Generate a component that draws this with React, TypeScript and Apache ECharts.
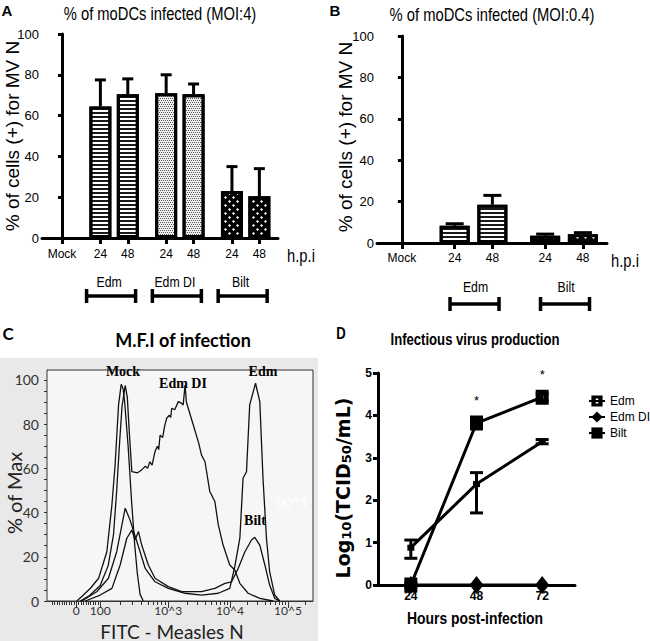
import React, { useEffect, useRef } from "react";
import * as echarts from "echarts";

// ---------- DATA ----------
// Panel A: % of moDCs infected (MOI:4)
const categoriesA = ["Mock", "24", "48", "24", "48", "24", "48"];
const groupsA = ["", "Edm", "Edm", "Edm DI", "Edm DI", "Bilt", "Bilt"];
const valuesA = [0, 64.5, 70.5, 71, 70.5, 23, 20.5];
const errorsA = [0, 13, 7.5, 9, 5, 12, 13.5];

// Panel B: % of moDCs infected (MOI:0.4)
const categoriesB = ["Mock", "24", "48", "24", "48"];
const groupsB = ["", "Edm", "Edm", "Bilt", "Bilt"];
const valuesB = [0, 8.3, 18.5, 3.5, 4.2];
const errorsB = [0, 1, 4.5, 0.8, 0.8];

// Panel C: histograms, [display channel, % of max]
const cTickValues = [0, 100, 1000, 10000, 100000];
const cTickLabels = ["0", "100", "10^3", "10^4", "10^5"];
const cPercentTicks = [0, 20, 40, 60, 80, 100];
const cNames = ["Mock", "Edm DI", "Edm", "Bilt"];
const mockC = [[112, 0], [137, 2.7], [165, 6], [194, 10.3], [225, 22.3], [244, 43.4], [256, 61.5], [269, 88.7], [279, 98], [286, 96], [292, 90], [305, 70], [318, 45], [330, 25], [340, 12], [350, 3], [362, 0]];
const edmDiC = [[125, 0], [160, 2.5], [200, 7], [230, 16], [250, 30], [262, 50], [272, 70], [282, 88], [294, 97.5], [302, 92], [310, 75], [319, 58.5], [340, 58], [356, 59.3], [370, 61], [378, 60], [387, 63], [395, 61.5], [406, 67.6], [415, 70], [420, 68.5], [425, 75], [435, 74], [442, 79], [450, 82.7], [460, 84], [465, 83], [469, 87.2], [480, 86.5], [494, 90.2], [505, 89.5], [512, 88.7], [519, 97.7], [524, 90], [531, 87.2], [550, 79.6], [569, 72], [581, 66], [594, 63], [612, 49.5], [631, 45], [644, 34.4], [662, 25.3], [687, 16.3], [706, 14], [725, 8], [756, 3.5], [800, 1.2], [850, 0]];
const edmC = [[131, 0], [187, 4.2], [231, 10.3], [262, 22.3], [294, 42], [312, 36.7], [350, 22.3], [369, 14.8], [406, 8.7], [456, 5.7], [519, 3.5], [581, 2.7], [644, 3.5], [687, 5.7], [706, 15.5], [725, 28.4], [737, 55.5], [750, 58.5], [762, 88.7], [784, 98.5], [800, 90.2], [812, 55.5], [825, 28.4], [837, 13.3], [856, 2.7], [875, 0]];
const biltC = [[144, 0], [200, 2.7], [244, 5.7], [275, 16.3], [300, 28.4], [319, 32.1], [331, 27.6], [344, 31.4], [356, 25.3], [381, 16.3], [406, 10.3], [456, 6.5], [506, 4.2], [581, 4.2], [631, 5.7], [669, 8], [694, 8.7], [719, 14.8], [744, 22.3], [769, 27.6], [781, 28.8], [800, 25.3], [819, 16.3], [837, 7.2], [856, 1.2], [875, 0]];

// Panel D: Infectious virus production
const hoursD = ["24", "48", "72"];
const edmD = [0, 3.82, 4.43];
const edmErrD = [0.05, 0.08, 0.08];
const edmDiD = [0, 0, 0];
const biltD = [0.88, 2.38, 3.38];
const biltLowD = [0.63, 1.7, 3.33];
const biltHighD = [1.06, 2.65, 3.43];
const starsD = ["", "*", "*"];

// ---------- LAYOUT / STYLE ----------
const SANS = '"Liberation Sans", Arial, sans-serif';
const CAL = 'Lato, "Open Sans", sans-serif';
const SERIF = '"Liberation Serif", "Times New Roman", serif';
const NARROW_SCALE = 0.82;

const gA = { left: 42, top: 34, width: 236, height: 204, xMin: -0.73, xMax: 7.88 };
const gB = { left: 377, top: 36, width: 230, height: 207, xMin: -0.66, xMax: 5.44 };
const gC = { left: 47, top: 370, width: 266, height: 231 };
const gD = { left: 378, top: 373, width: 197, height: 212 };

const EDM_SYMBOL = "path://M0,0H13V15H0Z M5,4V11H8V4Z";

function layoutPositions(groups: string[]) {
  const pos: number[] = [];
  let p = 0;
  groups.forEach((g, i) => {
    if (i > 0) p += g === groups[i - 1] ? 1 : 1.4;
    pos.push(Math.round(p * 100) / 100);
  });
  return pos;
}

const labelAt = (positions: number[], labels: string[]) => (v: number) => {
  let best = -1;
  let bd = 1e9;
  positions.forEach((p, i) => {
    const d = Math.abs(p - v);
    if (d < bd) {
      bd = d;
      best = i;
    }
  });
  return bd < 1e-3 ? labels[best] : "";
};

// biexponential-like display transform for panel C
function channelOf(v: number) {
  if (Math.abs(v) <= 100) return 110 + 0.9 * v;
  const l = Math.log10(v);
  const anchors = [[2, 200], [3, 456], [4, 688], [5, 906]];
  for (let i = 0; i < anchors.length - 1; i++) {
    if (l <= anchors[i + 1][0]) {
      const [l0, c0] = anchors[i];
      const [l1, c1] = anchors[i + 1];
      return c0 + ((l - l0) / (l1 - l0)) * (c1 - c0);
    }
  }
  return 906 + (l - 5) * 218;
}

const decalFor = (g: string) => {
  if (g === "Edm")
    return { color: "#fff", borderColor: "#000", borderWidth: 3, decal: { symbol: "rect", symbolSize: 1, color: "#1a1a1a", dashArrayX: [1, 0], dashArrayY: [2, 2] } };
  if (g === "Edm DI")
    return { color: "#eeeeee", borderColor: "#000", borderWidth: 3, decal: { symbol: "rect", symbolSize: 1, color: "#5a5a5a", dashArrayX: [[1, 1], [0, 1, 1, 0]], dashArrayY: [1, 1] } };
  return { color: "#000", borderColor: "#000", borderWidth: 3, decal: { symbol: "diamond", symbolSize: 1, color: "#fff", dashArrayX: [[3, 5], [0, 4, 3, 1]], dashArrayY: [3, 1] } };
};

const errorRender = (half: number, lw: number) => (params: any, api: any) => {
  const x = api.value(0);
  const lo = api.coord([x, api.value(1)]);
  const hi = api.coord([x, api.value(2)]);
  const st = { stroke: "#000", lineWidth: lw };
  const children: any[] = [
    { type: "line", shape: { x1: lo[0], y1: lo[1], x2: hi[0], y2: hi[1] }, style: st },
    { type: "line", shape: { x1: hi[0] - half, y1: hi[1], x2: hi[0] + half, y2: hi[1] }, style: st },
  ];
  if (api.value(3) === 1) {
    children.push({ type: "line", shape: { x1: lo[0] - half, y1: lo[1], x2: lo[0] + half, y2: lo[1] }, style: st });
  }
  return { type: "group", children };
};

function txt(text: string, x: number, y: number, font: string, extra: any = {}) {
  const { rotation, scaleX, ...style } = extra;
  return {
    type: "text",
    x,
    y,
    rotation: rotation || 0,
    scaleX: scaleX || 1,
    silent: true,
    z: 10,
    style: { text, font, fill: "#000", align: "center", verticalAlign: "middle", ...style },
  };
}
const ntxt = (text: string, x: number, y: number, font: string, extra: any = {}) =>
  txt(text, x, y, font, { scaleX: NARROW_SCALE, ...extra });

function bracket(cx: number, y: number, half: number, capH: number) {
  const st = { stroke: "#000", lineWidth: 3.5 };
  return [
    { type: "line", silent: true, z: 10, shape: { x1: cx - half, y1: y, x2: cx + half, y2: y }, style: st },
    { type: "line", silent: true, z: 10, shape: { x1: cx - half, y1: y - capH, x2: cx - half, y2: y + capH }, style: st },
    { type: "line", silent: true, z: 10, shape: { x1: cx + half, y1: y - capH, x2: cx + half, y2: y + capH }, style: st },
  ];
}

function groupMarks(groups: string[], pos: number[], g: any, labelY: number, brY: number, labelOff: number, brOff: number) {
  const px = (v: number) => g.left + ((v - g.xMin) / (g.xMax - g.xMin)) * g.width;
  const out: any[] = [];
  const seen: string[] = [];
  groups.forEach((name) => {
    if (!name || seen.includes(name)) return;
    seen.push(name);
    const ps = pos.filter((_, i) => groups[i] === name);
    const c = px((Math.min(...ps) + Math.max(...ps)) / 2);
    out.push(ntxt(name, c + labelOff, labelY, `15px ${SANS}`));
    out.push(...bracket(c + brOff, brY, 24.5, 7));
  });
  return out;
}

export default function App() {
  const ref = useRef<HTMLDivElement>(null);

  useEffect(() => {
    if (!ref.current) return;
    const chart = echarts.init(ref.current, undefined, { renderer: "svg" });

    const posA = layoutPositions(groupsA);
    const posB = layoutPositions(groupsB);
    const majorC = cTickValues.map(channelOf);
    const minorVals: number[] = [];
    for (let v = -100; v <= 90; v += 10) if (v !== 0) minorVals.push(v);
    [100, 1000, 10000, 100000].forEach((d) => {
      for (let k = 2; k <= 9; k++) minorVals.push(k * d);
    });
    const minorC = minorVals.map(channelOf).filter((c) => c >= 0 && c <= 1000);
    const c5: number[] = [];
    for (let v = 0; v <= 100; v += 5) c5.push(v);

    const axisBlack = { lineStyle: { color: "#000", width: 3 } };
    const tickBlack = (length: number) => ({ show: true, length, lineStyle: { color: "#000", width: 3 } });

    const barXAxis = (g: any, gi: number, pos: number[], cats: string[], margin: number) => ({
      gridIndex: gi,
      type: "value",
      min: g.xMin,
      max: g.xMax,
      axisLine: { show: true, ...axisBlack },
      axisTick: { ...tickBlack(6), customValues: pos },
      axisLabel: { customValues: pos, formatter: labelAt(pos, cats), fontSize: 12, fontFamily: SANS, color: "#000", margin },
      splitLine: { show: false },
    });
    const barYAxis = (gi: number) => ({
      gridIndex: gi,
      type: "value",
      min: 0,
      max: 100,
      interval: 20,
      axisLine: { show: true, ...axisBlack },
      axisTick: tickBlack(4),
      axisLabel: { fontSize: 13, fontFamily: SANS, color: "#000", margin: 3 },
      splitLine: { show: false },
    });

    const grids = [gA, gB, gC, gD].map((g: any, i) => ({
      left: g.left,
      top: g.top,
      width: g.width,
      height: g.height,
      containLabel: false,
      outerBoundsMode: "none",
      show: i === 2,
      borderColor: "#333",
      borderWidth: 1,
      backgroundColor: i === 2 ? "#f6f6f6" : "transparent",
      z: 1,
    }));

    const xAxis: any[] = [
      barXAxis(gA, 0, posA, categoriesA, 10),
      barXAxis(gB, 1, posB, categoriesB, 9),
      {
        gridIndex: 2,
        type: "value",
        min: 0,
        max: 1000,
        position: "bottom",
        axisLine: { show: true, lineStyle: { color: "#333", width: 1 } },
        axisTick: { show: true, customValues: majorC, length: 7, lineStyle: { color: "#333", width: 1 } },
        axisLabel: { customValues: majorC, formatter: labelAt(majorC, cTickLabels), fontSize: 12, fontFamily: CAL, color: "#333", margin: 3 },
        splitLine: { show: false },
      },
      {
        gridIndex: 2,
        type: "value",
        min: 0,
        max: 1000,
        position: "bottom",
        axisLine: { show: false },
        axisTick: { show: true, customValues: minorC, length: 4, lineStyle: { color: "#333", width: 1 } },
        axisLabel: { show: false },
        splitLine: { show: false },
      },
      {
        gridIndex: 3,
        type: "category",
        data: hoursD,
        boundaryGap: true,
        axisLine: { show: true, ...axisBlack },
        axisTick: { show: true, alignWithLabel: true, length: 5, lineStyle: { color: "#000", width: 3 } },
        axisLabel: { fontSize: 12, fontWeight: "bold", fontFamily: SANS, color: "#000", margin: 5 },
        splitLine: { show: false },
      },
    ];

    const yAxis: any[] = [
      barYAxis(0),
      barYAxis(1),
      {
        gridIndex: 2,
        type: "value",
        min: 0,
        max: 104.5,
        axisLine: { show: true, lineStyle: { color: "#333", width: 1 } },
        axisTick: { show: true, customValues: c5, length: 3, lineStyle: { color: "#333", width: 1 } },
        axisLabel: { customValues: cPercentTicks, fontSize: 14, fontFamily: CAL, color: "#333", margin: 8 },
        splitLine: { show: false },
      },
      {
        gridIndex: 3,
        type: "value",
        min: 0,
        max: 5,
        interval: 1,
        axisLine: { show: true, ...axisBlack },
        axisTick: tickBlack(5),
        axisLabel: { fontSize: 12, fontWeight: "bold", fontFamily: SANS, color: "#000", margin: 6 },
        splitLine: { show: false },
      },
    ];

    const barSeries = (gi: number, pos: number[], vals: number[], groups: string[], bw: number) => ({
      type: "bar",
      xAxisIndex: gi,
      yAxisIndex: gi,
      barWidth: bw,
      z: 3,
      data: vals
        .map((v, i) => ({ value: [pos[i], v], itemStyle: decalFor(groups[i]) }))
        .filter((d) => d.value[1] > 0),
    });
    const errSeries = (gi: number, pos: number[], vals: number[], errs: number[], half: number) => ({
      type: "custom",
      xAxisIndex: gi,
      yAxisIndex: gi,
      z: 2,
      renderItem: errorRender(half, 3),
      data: vals.map((v, i) => [pos[i], v, v + errs[i], 0]).filter((d, i) => errs[i] > 0),
    });

    const cLine = (name: string, data: number[][]) => ({
      name: name + " histogram",
      type: "line",
      xAxisIndex: 2,
      yAxisIndex: 2,
      data,
      symbol: "none",
      smooth: false,
      lineStyle: { color: "#111", width: 1.3 },
      z: 3,
    });

    const series: any[] = [
      barSeries(0, posA, valuesA, groupsA, 22),
      errSeries(0, posA, valuesA, errorsA, 5.5),
      barSeries(1, posB, valuesB, groupsB, 30),
      errSeries(1, posB, valuesB, errorsB, 9),
      cLine(cNames[0], mockC),
      cLine(cNames[1], edmDiC),
      cLine(cNames[2], edmC),
      cLine(cNames[3], biltC),
      {
        name: "Edm",
        type: "line",
        xAxisIndex: 4,
        yAxisIndex: 3,
        data: edmD,
        symbol: EDM_SYMBOL,
        symbolSize: [13, 15],
        itemStyle: { color: "#000" },
        lineStyle: { color: "#000", width: 3 },
        label: {
          show: true,
          position: "top",
          distance: 9,
          formatter: (p: any) => starsD[p.dataIndex],
          fontSize: 13,
          color: "#000",
          fontFamily: SANS,
        },
        z: 5,
      },
      {
        name: "Edm DI",
        type: "line",
        xAxisIndex: 4,
        yAxisIndex: 3,
        data: edmDiD,
        symbol: "diamond",
        symbolSize: [14, 18],
        itemStyle: { color: "#000" },
        lineStyle: { color: "#000", width: 3 },
        z: 5,
      },
      {
        name: "Bilt",
        type: "line",
        xAxisIndex: 4,
        yAxisIndex: 3,
        data: biltD,
        symbol: "rect",
        symbolSize: [7, 6],
        itemStyle: { color: "#000" },
        lineStyle: { color: "#000", width: 3 },
        z: 5,
      },
      {
        type: "custom",
        xAxisIndex: 4,
        yAxisIndex: 3,
        z: 4,
        renderItem: errorRender(6.5, 3),
        data: [
          ...edmD.map((v, i) => [i, v - edmErrD[i], v + edmErrD[i], 1]),
          ...biltD.map((v, i) => [i, biltLowD[i], biltHighD[i], 1]),
        ],
      },
    ];

    const graphic: any[] = [
      // panel C grey background
      { type: "rect", silent: true, z: -10, shape: { x: 0, y: 358, width: 318, height: 283 }, style: { fill: "#e9e9e9" } },
      // panel letters
      txt("A", 7, 10, `bold 15px ${SANS}`),
      txt("B", 335, 10, `bold 15px ${SANS}`),
      txt("C", 8, 333, `bold 17px ${CAL}`),
      ntxt("D", 341, 334, `bold 16px ${SANS}`),
      // titles
      ntxt("% of moDCs infected (MOI:4)", 160, 13, `18px ${SANS}`),
      ntxt("% of moDCs infected (MOI:0.4)", 492, 14, `18px ${SANS}`),
      txt("M.F.I of infection", 183, 340, `bold 18px ${CAL}`),
      ntxt("Infectious virus production", 475, 340, `bold 16px ${SANS}`),
      // axis names
      txt("% of cells (+) for MV N", 12, 136, `19px ${SANS}`, { rotation: Math.PI / 2 }),
      txt("% of cells (+) for MV N", 345, 137, `19px ${SANS}`, { rotation: Math.PI / 2 }),
      ntxt("h.p.i", 301, 255, `18px ${SANS}`),
      ntxt("h.p.i", 625, 260, `18px ${SANS}`),
      txt("% of Max", 14, 493, `20px ${CAL}`, { rotation: Math.PI / 2, fill: "#222" }),
      txt("FITC - Measles N", 172, 631, `19px ${CAL}`, { fill: "#222" }),
      ntxt("Hours post-infection", 475, 618, `bold 17px ${SANS}`),
      {
        type: "text",
        x: 343,
        y: 488,
        rotation: Math.PI / 2,
        silent: true,
        z: 10,
        style: {
          text: "{a|Log}{s|10}{a|(TCID}{s|50}{a|/mL)}",
          align: "center",
          verticalAlign: "middle",
          fill: "#000",
          rich: {
            a: { fontFamily: '"DejaVu Sans", sans-serif', fontWeight: "bold", fontSize: 19, verticalAlign: "bottom", fill: "#000" },
            s: { fontFamily: '"DejaVu Sans", sans-serif', fontWeight: "bold", fontSize: 13, verticalAlign: "bottom", fill: "#000" },
          },
        },
      },
      // panel C curve labels
      txt(cNames[0], 123, 371, `bold 14px ${SERIF}`),
      txt(cNames[1], 183, 383, `bold 14px ${SERIF}`),
      txt(cNames[2], 263, 371, `bold 14px ${SERIF}`),
      txt(cNames[3], 255, 520, `bold 14px ${SERIF}`),
      txt("00^3", 292, 503, `13px ${CAL}`, { fill: "#ffffff" }),
      // group labels and brackets
      ...groupMarks(groupsA, posA, gA, 282, 296, -5, -3),
      ...groupMarks(groupsB, posB, gB, 287, 304, 2, 1),
    ];

    chart.setOption({
      animation: false,
      backgroundColor: "#fff",
      textStyle: { fontFamily: SANS },
      grid: grids,
      xAxis,
      yAxis,
      series,
      legend: {
        data: ["Edm", "Edm DI", "Bilt"],
        orient: "vertical",
        left: 583,
        top: 390,
        itemWidth: 16,
        itemHeight: 14,
        itemGap: 4,
        selectedMode: false,
        textStyle: { fontSize: 12, fontFamily: SANS, color: "#000" },
      },
      graphic,
    });

    return () => chart.dispose();
  }, []);

  return (
    <div
      ref={ref}
      style={{ position: "absolute", left: 0, top: 0, width: 650, height: 641, background: "#fff" }}
    />
  );
}
